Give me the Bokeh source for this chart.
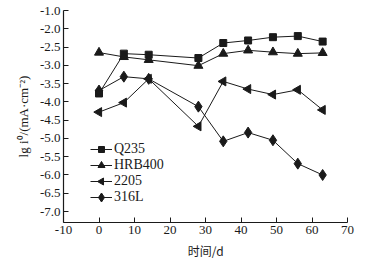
import math
from bokeh.plotting import figure
from bokeh.models import FixedTicker, Legend, LegendItem, Range1d
from bokeh.embed import file_html
from bokeh.resources import INLINE

days = [0, 7, 14, 28, 35, 42, 49, 56, 63]
q235 = [-3.77, -2.68, -2.71, -2.80, -2.39, -2.32, -2.23, -2.20, -2.35]
hrb400 = [-2.65, -2.77, -2.85, -3.01, -2.68, -2.59, -2.64, -2.68, -2.66]
d2205 = [-4.28, -4.02, -3.37, -4.67, -3.44, -3.65, -3.80, -3.67, -4.22]
s316l = [-3.69, -3.31, -3.37, -4.13, -5.08, -4.84, -5.05, -5.69, -6.00]

x_ticks = [-10, 0, 10, 20, 30, 40, 50, 60, 70]
y_ticks = [-1.5, -2.0, -2.5, -3.0, -3.5, -4.0, -4.5, -5.0, -5.5, -6.0, -6.5, -7.0]
y_tick_labels = ["-1.0", "-2.0", "-2.5", "-3.0", "-3.5", "-4.0", "-4.5",
                 "-5.0", "-5.5", "-6.0", "-6.5", "-7.0"]

FONT = "Liberation Serif"
C = "#1a1a1a"

W, H = 371, 263
BL, BR, BT, BB = 63, 24, 10, 41
FW, FH = W - BL - BR, H - BT - BB

p = figure(width=W, height=H, output_backend="svg", toolbar_location=None,
           x_range=(-10, 70), y_range=(-7.30, -1.5),
           min_border_left=BL, min_border_right=BR, min_border_top=BT,
           min_border_bottom=BB)
p.extra_x_ranges = {"px": Range1d(0, FW)}
p.extra_y_ranges = {"px": Range1d(0, FH)}
p.outline_line_color = None
p.grid.visible = False
p.background_fill_color = "white"
p.border_fill_color = "white"

for ax in (p.xaxis[0], p.yaxis[0]):
    ax.axis_line_color = C
    ax.axis_line_width = 1.2
    ax.major_tick_line_color = C
    ax.major_tick_in = 5
    ax.major_tick_out = 0
    ax.minor_tick_line_color = None
    ax.major_label_text_font = FONT
    ax.major_label_text_font_size = "13px"
    ax.major_label_text_color = C
    ax.axis_label_text_font = FONT
    ax.axis_label_text_font_size = "13px"
    ax.axis_label_text_font_style = "normal"
    ax.axis_label_text_color = C

p.xaxis.ticker = FixedTicker(ticks=x_ticks)
p.xaxis.major_label_overrides = {t: str(t) for t in x_ticks}
p.xaxis.major_label_standoff = 3
p.xaxis.axis_label = "时间/d"
p.xaxis.axis_label_standoff = 5
p.xaxis.axis_label_text_font = "Noto Sans CJK SC"
p.xaxis.axis_label_text_font_size = "12px"

p.yaxis.ticker = FixedTicker(ticks=y_ticks)
p.yaxis.major_label_overrides = dict(zip(y_ticks, y_tick_labels))
p.yaxis.major_label_standoff = 3
p.yaxis.axis_label = "lg i⁰/(mA·cm⁻²)"
p.yaxis.axis_label_standoff = 6

series = [
    ("Q235", q235, "square", 7, 6, 0.0),
    ("HRB400", hrb400, "triangle", 9, 7, 0.0),
    ("2205", d2205, "triangle", 9, 7, math.pi / 2),
    ("316L", s316l, "diamond", 11, 9, 0.0),
]

# legend layout (screen pixels inside the frame)
LEG_X, LEG_Y, ROW_H, GLYPH_W = 27, 17, 16, 22
n = len(series)

items = []
for i, (name, ys, marker, size, lsize, ang) in enumerate(series):
    r1 = p.line(days, ys, line_color=C, line_width=1)
    p.scatter(days, ys, marker=marker, size=size, angle=ang,
              fill_color=C, line_color=C)
    items.append(LegendItem(label=name, renderers=[r1]))
    # legend marker drawn in pixel space at the centre of the legend glyph slot
    gx = LEG_X + GLYPH_W / 2
    gy = LEG_Y + (n - i - 0.5) * ROW_H
    p.scatter([gx], [gy], marker=marker, size=lsize, angle=ang,
              fill_color=C, line_color=C, x_range_name="px", y_range_name="px")

legend = Legend(items=items, location=(LEG_X, LEG_Y))
legend.background_fill_alpha = 0
legend.border_line_color = None
legend.padding = 0
legend.margin = 0
legend.spacing = 0
legend.label_height = ROW_H
legend.glyph_height = ROW_H
legend.glyph_width = GLYPH_W
legend.label_standoff = 2
legend.label_text_font = FONT
legend.label_text_font_size = "14px"
legend.label_text_color = C
p.add_layout(legend, "center")

open("out.html", "w").write(file_html(p, INLINE))
